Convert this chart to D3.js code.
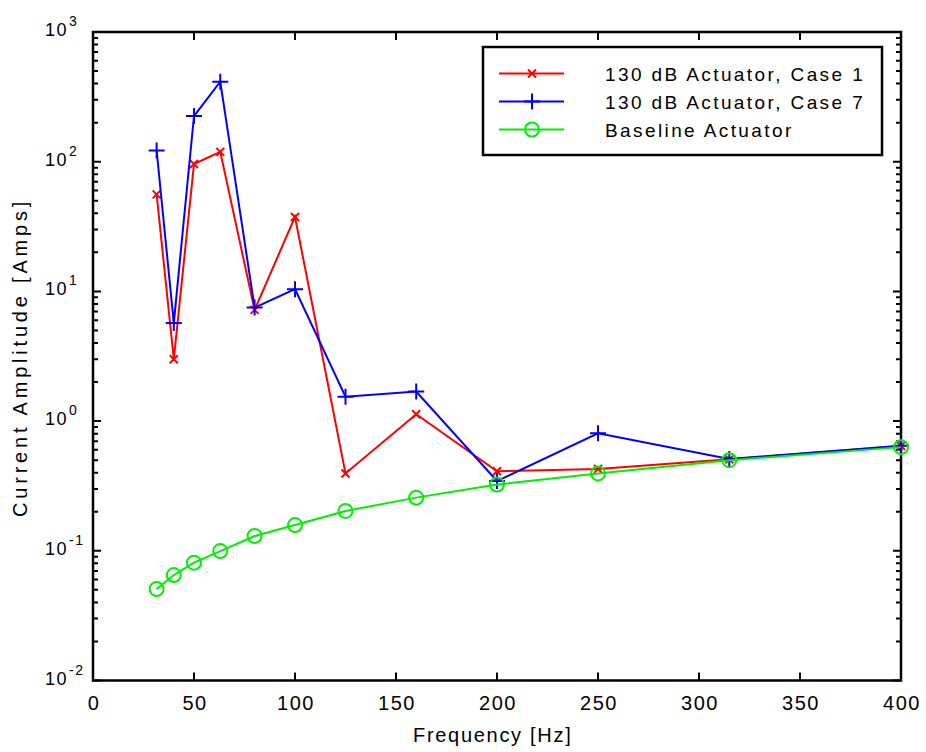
<!DOCTYPE html>
<meta charset="utf-8">
<style>
body { margin: 0; background: #fff; }
svg { display: block; }
text { font-family: Arial, "Liberation Sans", Helvetica, sans-serif; fill: #000; }
</style>
<script src="https://d3js.org/d3.v7.min.js"></script>
<body>
<script>

var width = 926
var height = 752

// third-octave frequencies [Hz]
var freq = [31.5, 40, 50, 63, 80, 100, 125, 160, 200, 250, 315, 400]
var case1 = [56, 3.0, 96, 119, 7.2, 37.5, 0.395, 1.13, 0.41, 0.428, 0.507, 0.643]
var case7 = [122, 5.7, 225, 414, 7.5, 10.4, 1.54, 1.69, 0.345, 0.805, 0.51, 0.645]
var baseline = [0.0507, 0.065, 0.081, 0.0995, 0.13, 0.158, 0.203, 0.257, 0.324, 0.395, 0.50, 0.63]

var xTicks = [0, 50, 100, 150, 200, 250, 300, 350, 400]
var yDecades = [-2, -1, 0, 1, 2, 3]

var series = [
  {name: "130 dB Actuator, Case 1", values: case1, color: "#ff0000", marker: "x"},
  {name: "130 dB Actuator, Case 7", values: case7, color: "#0000ff", marker: "plus"},
  {name: "Baseline Actuator", values: baseline, color: "#00ee00", marker: "circle"}
]

var svg = d3.select("body").append("svg").attr("width", width).attr("height", height)

var xs = d3.scaleLinear().domain([0, 400]).range([93, 901])
var ys = d3.scaleLog().domain([0.01, 1000]).range([680.5, 32])

var g = svg.append("g")

// tick marks, drawn as one path
var tp = d3.path()
yDecades.forEach((d, i) => {
  var v = Math.pow(10, d)
  tp.moveTo(xs(0), ys(v)); tp.lineTo(xs(0) + 8, ys(v))
  tp.moveTo(xs(400), ys(v)); tp.lineTo(xs(400) - 8, ys(v))
  if (i < yDecades.length - 1) {
    for (var k = 2; k < 10; k++) {
      tp.moveTo(xs(0), ys(k * v)); tp.lineTo(xs(0) + 5, ys(k * v))
      tp.moveTo(xs(400), ys(k * v)); tp.lineTo(xs(400) - 5, ys(k * v))
    }
  }
})
xTicks.forEach(v => {
  tp.moveTo(xs(v), ys(0.01)); tp.lineTo(xs(v), ys(0.01) - 8)
  tp.moveTo(xs(v), ys(1000)); tp.lineTo(xs(v), ys(1000) + 8)
})
g.append("path").attr("d", tp.toString())
  .attr("fill", "none").attr("stroke", "#000").attr("stroke-width", 2)

// frame
g.append("rect")
  .attr("x", xs(0)).attr("y", ys(1000))
  .attr("width", xs(400) - xs(0)).attr("height", ys(0.01) - ys(1000))
  .attr("fill", "none").attr("stroke", "#000").attr("stroke-width", 2.5)

// tick labels
g.selectAll(".xl").data(xTicks).enter().append("text")
  .attr("x", d => xs(d) + 1).attr("y", ys(0.01) + 29)
  .attr("text-anchor", "middle").style("font-size", "20px").style("letter-spacing", "1.5px")
  .text(d => d)

yDecades.forEach(d => {
  var t = g.append("text")
    .attr("x", 45).attr("y", ys(Math.pow(10, d)) + 4)
    .style("font-size", "18px").style("letter-spacing", "1.5px")
  t.append("tspan").text("10")
  t.append("tspan").attr("dx", 1).attr("dy", -10).style("font-size", "14px").text(d)
})

// axis titles
g.append("text").attr("x", 413).attr("y", 742)
  .style("font-size", "20px").style("letter-spacing", "1.7px").text("Frequency [Hz]")
g.append("text")
  .attr("transform", "translate(27,517) rotate(-90)")
  .style("font-size", "20px").style("letter-spacing", "3.8px").text("Current Amplitude [Amps]")

function drawMarker(sel, type, color, cx, cy) {
  var mp = d3.path()
  if (type == "x") {
    mp.moveTo(cx - 4, cy - 4); mp.lineTo(cx + 4, cy + 4)
    mp.moveTo(cx - 4, cy + 4); mp.lineTo(cx + 4, cy - 4)
  } else if (type == "plus") {
    mp.moveTo(cx - 8, cy); mp.lineTo(cx + 8, cy)
    mp.moveTo(cx, cy - 8); mp.lineTo(cx, cy + 8)
  } else {
    mp.moveTo(cx + 7, cy); mp.arc(cx, cy, 7, 0, 2 * Math.PI)
  }
  sel.append("path").attr("d", mp.toString())
    .attr("stroke", color).attr("stroke-width", 2).attr("fill", "none")
}

var line = d3.line().x(d => xs(d[0])).y(d => ys(d[1]))

series.forEach(s => {
  var pts = freq.map((f, i) => [f, s.values[i]])
  var sg = g.append("g")
  sg.append("path").datum(pts).attr("d", line)
    .attr("fill", "none").attr("stroke", s.color).attr("stroke-width", 2)
  pts.forEach(p => drawMarker(sg, s.marker, s.color, xs(p[0]), ys(p[1])))
})

// legend
var lg = g.append("g")
lg.append("rect").attr("x", 483).attr("y", 47).attr("width", 399).attr("height", 108)
  .attr("fill", "#fff").attr("stroke", "#000").attr("stroke-width", 2.5)
series.forEach((s, i) => {
  var ly = 73.5 + i * 28
  lg.append("line").attr("x1", 499).attr("x2", 564).attr("y1", ly).attr("y2", ly)
    .attr("stroke", s.color).attr("stroke-width", 2)
  drawMarker(lg, s.marker, s.color, 532, ly)
  lg.append("text").attr("x", 605).attr("y", ly + 7).style("font-size", "19px")
    .style("letter-spacing", "2.4px").text(s.name)
})

</script>
</body>
